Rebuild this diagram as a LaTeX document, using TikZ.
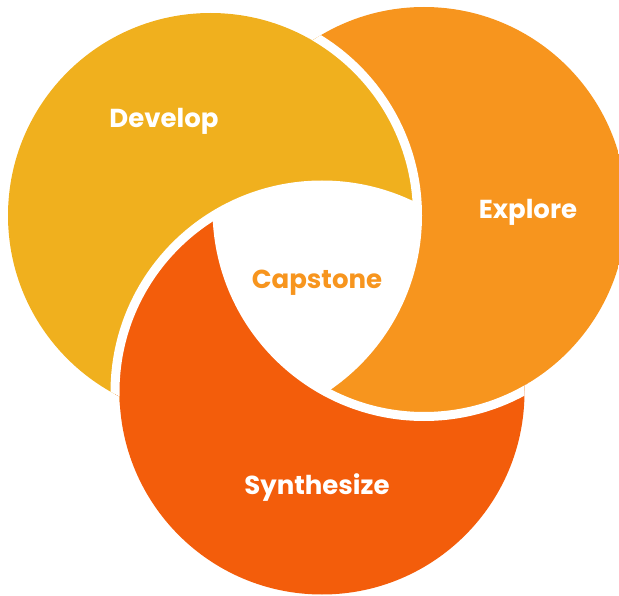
\documentclass[tikz,border=0pt]{standalone}
\usepackage{fontspec}
\setmainfont{Poppins}
\definecolor{devyellow}{HTML}{F0B01E}
\definecolor{exorange}{HTML}{F7951E}
\definecolor{synred}{HTML}{F35D0B}
\tikzset{
  gapline/.style={draw=white, line width=9pt},
  lbl/.style={font=\bfseries\fontsize{26}{30}\selectfont, text=white, inner sep=0pt, anchor=base},
  centerlbl/.style={font=\bfseries\fontsize{26}{30}\selectfont, text=exorange, inner sep=0pt, anchor=base}
}
\begin{document}
\begin{tikzpicture}[x=1pt,y=-1pt]
\useasboundingbox (0,0) rectangle (619,596);
\clip (0,0) rectangle (619,596);
\coordinate (cD) at (210.5,215.5);
\coordinate (cE) at (424,209.5);
\coordinate (cS) at (322,392);
\begin{scope}
  \clip (cD) circle[radius=202.5pt] (cE) circle[radius=202.5pt] (cS) circle[radius=202.5pt];
  \fill[synred] (cS) circle[radius=207pt];
  \fill[exorange] (cE) circle[radius=207pt];
  \fill[devyellow] (cD) circle[radius=207pt];
  \begin{scope}
    \clip (cD) circle[radius=210pt];
    \fill[synred] (cS) circle[radius=207pt];
  \end{scope}
  \begin{scope}
    \clip (cD) circle[radius=207pt];
    \clip (cE) circle[radius=207pt];
    \fill[white] (cS) circle[radius=207pt];
  \end{scope}
  \begin{scope}
    \clip (cD) circle[radius=207pt];
    \draw[gapline] (cS) circle[radius=207pt];
  \end{scope}
  \begin{scope}
    \clip (cS) circle[radius=207pt];
    \draw[gapline] (cE) circle[radius=207pt];
  \end{scope}
  \begin{scope}
    \clip (cE) circle[radius=207pt];
    \draw[gapline] (cD) circle[radius=207pt];
  \end{scope}
\end{scope}
\node[lbl] (develop) at (164,128) {Develop};
\node[lbl] (explore) at (528,218.5) {Explore};
\node[lbl] (synth) at (317,494) {Synthesize};
\node[centerlbl] (capstone) at (317,289) {Capstone};
\end{tikzpicture}
\end{document}
